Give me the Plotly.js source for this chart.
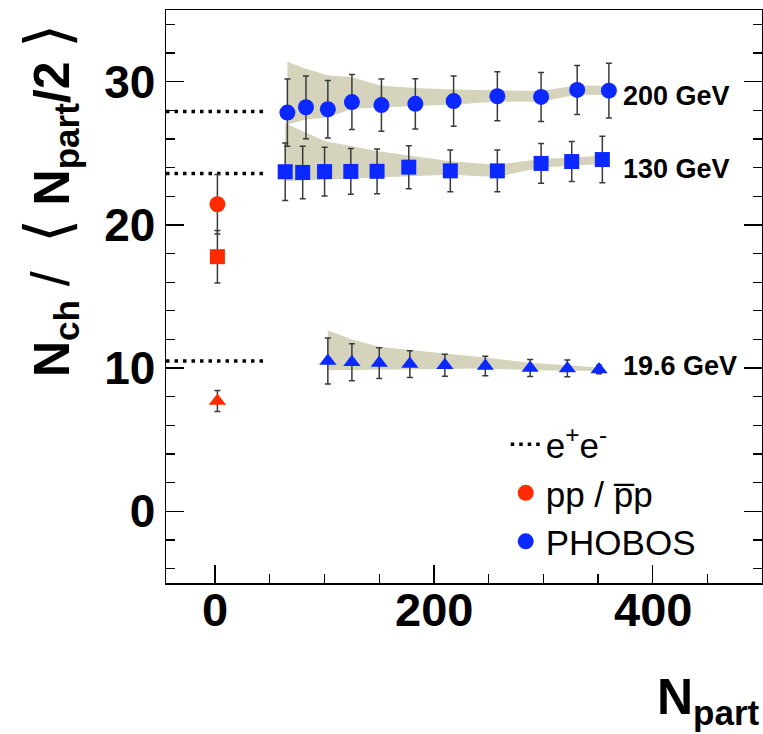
<!DOCTYPE html>
<html>
<head>
<meta charset="utf-8">
<script src="https://cdn.plot.ly/plotly-3.0.1.min.js"></script>
<style>html,body{margin:0;padding:0;background:#fff;}#chart{width:763px;height:734px;}</style>
</head>
<body>
<div id="chart"></div>
<script>
// ---- data ----
const npart200 = [66, 83, 103, 125, 152, 183, 218, 258, 298, 331, 360];
const ratio200 = [27.84, 28.21, 28.07, 28.57, 28.36, 28.45, 28.64, 28.98, 28.93, 29.42, 29.37];
const err200   = [2.35, 2.19, 2.0, 1.92, 1.83, 1.75, 1.76, 1.71, 1.71, 1.71, 1.91];
const bandHi200 = [31.39, 30.9, 30.45, 30.3, 29.72, 29.55, 29.45, 29.38, 29.35, 29.75, 29.7];
const bandLo200 = [27.0, 27.35, 27.5, 28.1, 28.2, 28.27, 28.4, 28.6, 28.6, 29.1, 29.05];

const npart130 = [64, 80, 100, 124, 148, 177, 215, 258, 298, 326, 354];
const ratio130 = [23.71, 23.66, 23.72, 23.73, 23.74, 24.03, 23.77, 23.77, 24.29, 24.42, 24.56];
const err130   = [2.01, 1.83, 1.7, 1.6, 1.56, 1.5, 1.45, 1.45, 1.39, 1.4, 1.62];
const bandHi130 = [27.1, 26.55, 25.85, 25.5, 25.15, 24.85, 24.45, 24.2, 24.6, 24.7, 24.85];
const bandLo130 = [23.05, 23.1, 23.15, 23.2, 23.3, 23.4, 23.5, 23.35, 24.0, 24.1, 24.25];

const npart19 = [103, 125, 150, 178, 210, 247, 288, 322, 351];
const ratio19 = [10.5, 10.41, 10.35, 10.28, 10.2, 10.15, 10.01, 9.98, 9.9];
const err19   = [1.6, 1.3, 1.07, 0.93, 0.77, 0.68, 0.6, 0.58, 0.3];
const bandHi19 = [12.64, 12.0, 11.49, 11.25, 11.02, 10.74, 10.37, 10.2, 10.05];
const bandLo19 = [9.86, 9.88, 9.9, 9.92, 9.95, 9.98, 9.85, 9.82, 9.8];

const ppNpart = [2];
const pp200 = [21.44], ppErr200 = [2.08];
const pp130 = [17.78], ppErr130 = [1.83];
const pp19  = [7.7],   ppErr19  = [0.73];

const eeNpart = [-45, 44];
const ee200 = 27.92, ee130 = 23.59, ee19 = 10.49;

const xTickVals = [0, 200, 400];
const xTickText = ['0', '200', '400'];

const energyLabels = ['200 GeV', '130 GeV', '19.6 GeV'];
const energyLabelX = 371;
const energyLabelY = [29.0, 23.87, 10.12];

const legendNames = ['e<sup>+</sup>e<sup>-</sup>', 'pp / p\u0305p', 'PHOBOS'];

// ---- styles ----
const BLUE = '#0a28ff', RED = '#ff2a00', BAND = '#d6d3bc', ERR = '#3a3a3a';
const FONT = 'Liberation Sans, Arial, Helvetica, sans-serif';

function band(x, hi, lo) {
  return {
    x: x.concat(x.slice().reverse()),
    y: hi.concat(lo.slice().reverse()),
    type: 'scatter', mode: 'lines', fill: 'toself', fillcolor: BAND,
    line: {width: 0, color: BAND}, showlegend: false, hoverinfo: 'skip'
  };
}
function eeLine(yv, show) {
  return {
    x: eeNpart, y: eeNpart.map(() => yv), type: 'scatter', mode: 'lines',
    line: {color: '#000', width: 3.5, dash: '3.5px,5px'},
    name: legendNames[0], showlegend: show, legendrank: 1
  };
}
function pts(x, y, e, sym, col, size, name, show, rank) {
  return {
    x: x, y: y, type: 'scatter', mode: 'markers',
    marker: {symbol: sym, color: col, size: size, line: {width: 0}},
    error_y: {type: 'data', array: e, visible: true, color: ERR, thickness: 1.5, width: 3},
    name: name || '', showlegend: !!show, legendrank: rank || 10
  };
}

const data = [
  band(npart200, bandHi200, bandLo200),
  band(npart130, bandHi130, bandLo130),
  band(npart19, bandHi19, bandLo19),
  eeLine(ee200, true),
  eeLine(ee130, false),
  eeLine(ee19, false),
  pts(ppNpart, pp200, ppErr200, 'circle', RED, 16, legendNames[1], true, 2),
  pts(ppNpart, pp130, ppErr130, 'square', RED, 15),
  pts(ppNpart, pp19, ppErr19, 'triangle-up', RED, 15),
  pts(npart200, ratio200, err200, 'circle', BLUE, 16, legendNames[2], true, 3),
  pts(npart130, ratio130, err130, 'square', BLUE, 15),
  pts(npart19, ratio19, err19, 'triangle-up', BLUE, 15)
];

const annotations = energyLabels.map((t, i) => ({
  x: energyLabelX, y: energyLabelY[i], xref: 'x', yref: 'y', text: t,
  showarrow: false, xanchor: 'left', yanchor: 'middle',
  font: {family: FONT, size: 27, color: '#000', weight: 700}
}));
// x tick labels placed just under the axis (as in the reference)
xTickVals.forEach((v, i) => annotations.push({
  x: v, xref: 'x', y: 0.003, yref: 'paper', text: xTickText[i],
  showarrow: false, xanchor: 'center', yanchor: 'top',
  font: {family: FONT, size: 47, color: '#000', weight: 700}
}));
const thin = (s, sz) => '<span style="font-weight:normal;font-size:' + sz + 'px">' + s + '</span>';
annotations.push({
  xref: 'paper', yref: 'paper', x: -0.195, y: 0.668, textangle: -90,
  text: 'N<sub>ch</sub>\u00A0' + thin('/', 54) + '\u00A0\u00A0' + thin('\u27E8', 62) +
        '\u00A0N<sub>part</sub>/2\u00A0' + thin('\u27E9', 62),
  showarrow: false, xanchor: 'center', yanchor: 'middle',
  font: {family: FONT, size: 50, color: '#000', weight: 700}
});
annotations.push({
  xref: 'paper', yref: 'paper', x: 1, y: -0.2635, text: 'N<sub>part</sub>',
  showarrow: false, xanchor: 'right', yanchor: 'bottom',
  font: {family: FONT, size: 50, color: '#000', weight: 700}
});

const layout = {
  width: 763, height: 734,
  margin: {l: 166, r: 1, t: 10, b: 151, pad: 0},
  paper_bgcolor: '#fff', plot_bgcolor: '#fff',
  showlegend: true,
  legend: {
    x: 0.570, y: 0.293, xanchor: 'left', yanchor: 'top',
    font: {family: FONT, size: 35, color: '#000'},
    bgcolor: 'rgba(0,0,0,0)', borderwidth: 0, traceorder: 'normal'
  },
  xaxis: {
    range: [-45, 500], tickvals: xTickVals, ticks: 'inside', ticklen: 18, tickwidth: 1.5,
    tickcolor: '#000', showline: true, linecolor: '#000', linewidth: 1.5, mirror: true,
    showgrid: false, zeroline: false, showticklabels: false,
    minor: {dtick: 50, tick0: 0, ticks: 'inside', ticklen: 9, tickwidth: 1.2, tickcolor: '#000', showgrid: false}
  },
  yaxis: {
    range: [-5, 35], tick0: 0, dtick: 10, ticks: 'inside', ticklen: 18, tickwidth: 1.5,
    tickcolor: '#000', showline: true, linecolor: '#000', linewidth: 1.5, mirror: 'ticks',
    showgrid: false, zeroline: false,
    tickfont: {family: FONT, size: 46, color: '#000', weight: 700},
    minor: {dtick: 2, tick0: 0, ticks: 'inside', ticklen: 9, tickwidth: 1.2, tickcolor: '#000', showgrid: false}
  },
  annotations: annotations
};

Plotly.newPlot('chart', data, layout, {staticPlot: true, displayModeBar: false});
</script>
</body>
</html>
